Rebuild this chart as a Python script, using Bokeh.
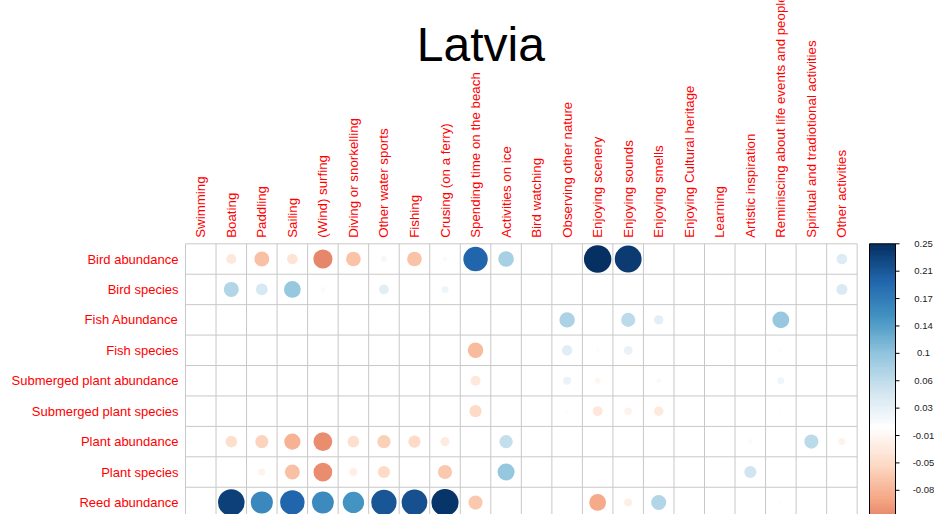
import numpy as np
from bokeh.plotting import figure
from bokeh.models import Range1d, LinearColorMapper, ColumnDataSource
from bokeh.core.properties import value
from bokeh.embed import file_html
from bokeh.resources import INLINE

# ---------------- data ----------------
title_text = "Latvia"

activities = [
    "Swimming", "Boating", "Paddling", "Sailing", "(Wind) surfing",
    "Diving or snorkelling", "Other water sports", "Fishing",
    "Crusing (on a ferry)", "Spending time on the beach", "Activities on ice",
    "Bird watching", "Observing other nature", "Enjoying scenery",
    "Enjoying sounds", "Enjoying smells", "Enjoying Cultural heritage",
    "Learning", "Artistic inspiration",
    "Reminiscing about life events and people",
    "Spiritual and tradiotional activities", "Other activities",
]

drivers = [
    "Bird abundance", "Bird species", "Fish Abundance", "Fish species",
    "Submerged plant abundance", "Submerged plant species",
    "Plant abundance", "Plant species", "Reed abundance",
]

bird_abundance = [0, -0.033, -0.073, -0.037, -0.12, -0.070, -0.012, -0.070, 0.008, 0.195, 0.08,
                  0, 0, 0.246, 0.235, 0, 0, 0, 0, 0, 0, 0.037]
bird_species = [0, 0.074, 0.045, 0.092, 0.008, 0.002, 0.031, 0.002, 0.016, 0, 0,
                0, 0, 0, 0, 0, 0, 0, 0, 0, 0, 0.04]
fish_abundance = [0, 0, 0, 0, 0, 0, 0, 0, 0, 0, 0,
                  0, 0.078, 0, 0.065, 0.029, 0, 0, 0, 0.092, 0, 0]
fish_species = [0, 0, 0, 0, 0, 0, 0, 0, 0, -0.078, 0,
                0, 0.035, 0.005, 0.025, 0.003, 0, 0, 0, 0.005, 0, 0]
submerged_plant_abundance = [0, 0, 0, 0, 0, 0, 0, 0, 0, -0.033, 0,
                             0, 0.021, -0.012, -0.002, 0.008, 0, 0, 0, 0.016, 0, 0]
submerged_plant_species = [0, 0, 0, 0, 0, 0, 0, 0, 0, -0.048, 0,
                           0, -0.004, -0.033, -0.018, -0.029, 0, 0, 0, -0.003, 0, 0]
plant_abundance = [0, -0.045, -0.056, -0.085, -0.115, -0.045, -0.058, -0.048, -0.027, 0, 0.058,
                   0, 0, 0, 0, 0, 0, 0, -0.008, 0, 0.065, -0.016]
plant_species = [0, -0.001, -0.016, -0.073, -0.115, -0.021, -0.048, -0.002, -0.065, 0, 0.095,
                 0, 0, 0, 0, 0, 0, 0, 0.048, 0, 0, -0.001]
reed_abundance = [0, 0.23, 0.16, 0.195, 0.157, 0.148, 0.21, 0.215, 0.24, -0.065, 0,
                  0, -0.002, -0.092, -0.021, 0.074, 0, 0, 0, 0.004, 0, 0]

matrix_rows = [bird_abundance, bird_species, fish_abundance, fish_species,
               submerged_plant_abundance, submerged_plant_species,
               plant_abundance, plant_species, reed_abundance]

# colour-bar labels visible in the picture (bottom label falls off the page)
cb_tick_labels = ["-0.08", "-0.05", "-0.01", "0.03", "0.06",
                  "0.1", "0.14", "0.17", "0.21", "0.25"]

# ---------------- layout ----------------
W, H = 934, 514
CW, CH = 30.53, 30.43          # cell size in px
LEFT, TOP = 185.0, 243.3       # matrix top-left corner in px
ncol, nrow = len(activities), len(drivers)


def px2x(px):
    return (px - LEFT) / CW


def py2y(py):
    return nrow - (py - TOP) / CH


p = figure(width=W, height=H, output_backend="svg", toolbar_location=None,
           x_axis_location=None, y_axis_location=None, min_border=0,
           x_range=Range1d(px2x(0), px2x(W)), y_range=Range1d(py2y(H), py2y(0)))
p.outline_line_color = None
p.background_fill_color = "white"
p.border_fill_color = "white"
p.xgrid.visible = False
p.ygrid.visible = False
p.grid.grid_line_color = None

# palette (RdBu diverging, white centre)
anchors = ["#67001F", "#B2182B", "#D6604D", "#F4A582", "#FDDBC7", "#FFFFFF",
           "#D1E5F0", "#92C5DE", "#4393C3", "#2166AC", "#053061"]
rgb = np.array([[int(c[i:i + 2], 16) for i in (1, 3, 5)] for c in anchors], dtype=float)
t = np.linspace(0, 1, 201)
at = np.linspace(0, 1, len(anchors))
pal = []
for tt in t:
    r = np.interp(tt, at, rgb[:, 0]); g = np.interp(tt, at, rgb[:, 1]); b = np.interp(tt, at, rgb[:, 2])
    pal.append("#%02x%02x%02x" % (int(round(r)), int(round(g)), int(round(b))))

M = np.array(matrix_rows, dtype=float)
vmax = np.abs(M).max()
cmin, cmax = M.min(), M.max()
mapper = LinearColorMapper(palette=pal, low=-vmax, high=vmax)

# cell grid
p.segment(x0=list(range(ncol + 1)), y0=[0] * (ncol + 1), x1=list(range(ncol + 1)), y1=[nrow] * (ncol + 1),
          line_color="#c8c8c8", line_width=1)
p.segment(x0=[0] * (nrow + 1), y0=list(range(nrow + 1)), x1=[ncol] * (nrow + 1), y1=list(range(nrow + 1)),
          line_color="#c8c8c8", line_width=1)

# circles
xs, ys, vs, rs = [], [], [], []
for i, row in enumerate(matrix_rows):
    for j, v in enumerate(row):
        if v == 0:
            continue
        xs.append(j + 0.5)
        ys.append(nrow - i - 0.5)
        vs.append(v)
        rs.append(0.45 * np.sqrt(abs(v) / vmax))
src = ColumnDataSource(dict(x=xs, y=ys, v=vs, r=rs))
p.circle(x="x", y="y", radius="r", source=src,
         fill_color={"field": "v", "transform": mapper}, line_color=None)

font = value("Liberation Sans")

# row labels
p.text(x=[px2x(LEFT - 7)] * nrow, y=[nrow - i - 0.5 for i in range(nrow)], text=drivers,
       text_align="right", text_baseline="middle", text_color="red",
       text_font=font, text_font_size="13px")

# column labels
p.text(x=[j + 0.5 for j in range(ncol)], y=[py2y(TOP - 6)] * ncol, text=activities,
       angle=np.pi / 2, text_align="left", text_baseline="middle", text_color="red",
       text_font=font, text_font_size="13.3px")

# title
p.text(x=[px2x(480.3)], y=[py2y(44)], text=[title_text], text_align="center",
       text_baseline="alphabetic", text_color="black", text_font=font, text_font_size="48px")

# colour bar
bx0, bx1 = px2x(869), px2x(895)
grad = np.linspace(cmin, cmax, 256).reshape(-1, 1)
p.image(image=[grad], x=bx0, y=0, dw=bx1 - bx0, dh=nrow, color_mapper=mapper)
p.quad(left=[bx0], right=[bx1], bottom=[0], top=[nrow], fill_color=None, line_color="black", line_width=1)
nsteps = len(cb_tick_labels)  # one more label (the minimum) sits at the bar's bottom edge
ty = [nrow * (k + 1) / nsteps for k in range(nsteps)]
p.segment(x0=[bx1] * len(ty), y0=ty, x1=[bx1 + 4 / CW] * len(ty), y1=ty, line_color="black", line_width=1)
p.text(x=[px2x(923)] * len(ty), y=ty, text=cb_tick_labels, text_align="center", text_baseline="middle",
       text_color="#222222", text_font=font, text_font_size="9.5px")

open("out.html", "w").write(file_html(p, INLINE))
